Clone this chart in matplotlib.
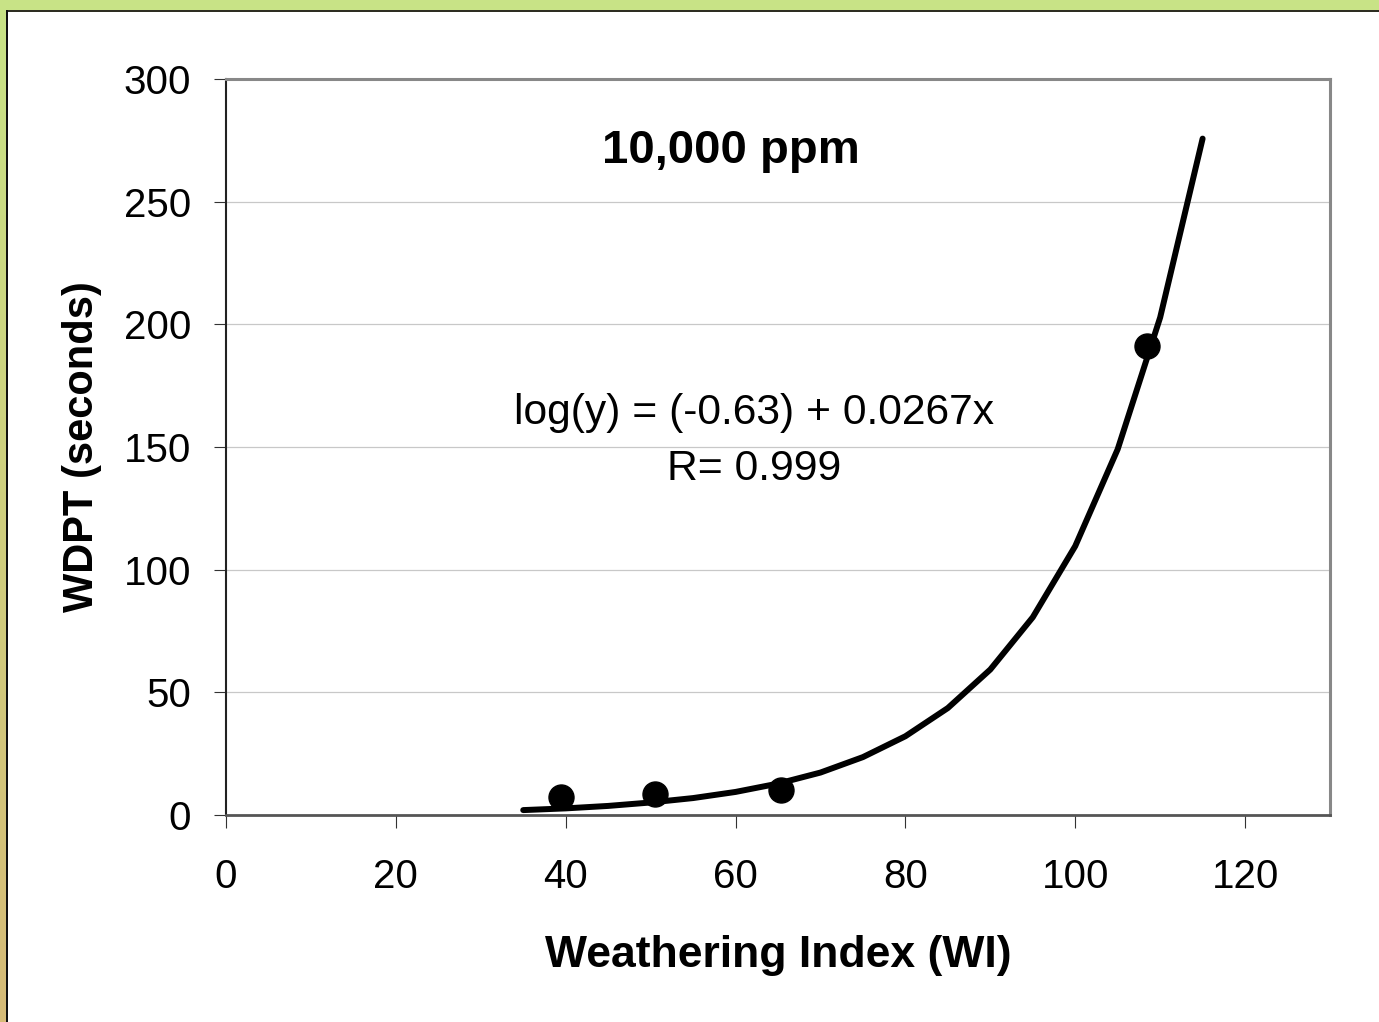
import numpy as np
import matplotlib
matplotlib.use("Agg")
from matplotlib import pyplot as plt
from matplotlib.patches import Rectangle

plt.rcParams['font.family'] = ['Liberation Sans', 'DejaVu Sans']

# measured points
wi_points = [39.5, 50.5, 65.3, 108.4]
wdpt_points = [7.3, 8.6, 10.2, 191.2]

# trendline as drawn (steps of 5)
wi_fit = [35, 40, 45, 50, 55, 60, 65, 70, 75, 80, 85, 90, 95, 100, 105, 110, 115]
wdpt_fit = [2.0, 2.7, 3.7, 5.1, 6.9, 9.4, 12.8, 17.3, 23.6, 32.1, 43.6, 59.3,
            80.6, 109.6, 149.1, 202.8, 275.7]

x_ticks = [0, 20, 40, 60, 80, 100, 120]
y_ticks = [0, 50, 100, 150, 200, 250, 300]

W, H = 1379, 1022
fig = plt.figure(figsize=(W / 100, H / 100), dpi=100, facecolor='white')

# frame: green strip on top, green->tan strip on the left
fig.patches.append(Rectangle((0, 1 - 10 / H), 1, 10 / H, transform=fig.transFigure,
                             facecolor='#c8e386', edgecolor='none', zorder=0))
fig.patches.append(Rectangle((6 / W, 1 - 12 / H), 1 - 6 / W, 2 / H, transform=fig.transFigure,
                             facecolor='#2e2e22', edgecolor='none', zorder=0))
grad_ax = fig.add_axes([0, 0, 6 / W, 1 - 10 / H])
grad = np.linspace(0, 1, 256).reshape(-1, 1)
top_c = np.array([0xc8, 0xe3, 0x86]) / 255
bot_c = np.array([0xd6, 0xbb, 0x77]) / 255
img = (1 - grad)[..., None] * top_c + grad[..., None] * bot_c
grad_ax.imshow(img, aspect='auto', extent=[0, 1, 0, 1])
grad_ax.axis('off')
fig.patches.append(Rectangle((6 / W, 0), 2 / W, 1 - 10 / H, transform=fig.transFigure,
                             facecolor='#111111', edgecolor='none', zorder=0))

ax = fig.add_axes([226 / W, 1 - 815 / H, (1330 - 226) / W, (815 - 79) / H])
ax.set_xlim(0, 130)
ax.set_ylim(0, 300)

for y in y_ticks[1:]:
    ax.axhline(y, color='#c8c8c8', lw=0.9, zorder=1)

ax.plot(wi_fit, wdpt_fit, color='black', lw=4.3, solid_capstyle='round',
        solid_joinstyle='round', zorder=3)
ax.plot(wi_points, wdpt_points, 'o', color='black', ms=18, zorder=4)

ax.set_xticks(x_ticks)
ax.set_yticks(y_ticks)
ax.tick_params(axis='both', direction='out', length=9, width=0.8, color='#333333',
               labelsize=29)
ax.tick_params(axis='x', pad=22)
ax.tick_params(axis='y', pad=16)

ax.spines['left'].set_color('#222222')
ax.spines['left'].set_linewidth(1.5)
ax.spines['bottom'].set_color('#555555')
ax.spines['bottom'].set_linewidth(2)
for s in ('top', 'right'):
    ax.spines[s].set_color('#888888')
    ax.spines[s].set_linewidth(2.2)

ax.set_xlabel('Weathering Index (WI)', fontsize=32, fontweight='bold', labelpad=28)
ax.set_ylabel('WDPT (seconds)', fontsize=30, fontweight='bold', labelpad=16)

ax.text(0.457, 0.902, '10,000 ppm', transform=ax.transAxes, ha='center', va='center',
        fontsize=34, fontweight='bold')
ax.text(0.478, 0.546, 'log(y) = (-0.63) + 0.0267x', transform=ax.transAxes,
        ha='center', va='center', fontsize=30.7)
ax.text(0.478, 0.47, 'R= 0.999', transform=ax.transAxes,
        ha='center', va='center', fontsize=30.7)

fig.savefig('out.png', dpi=100, facecolor='white')
